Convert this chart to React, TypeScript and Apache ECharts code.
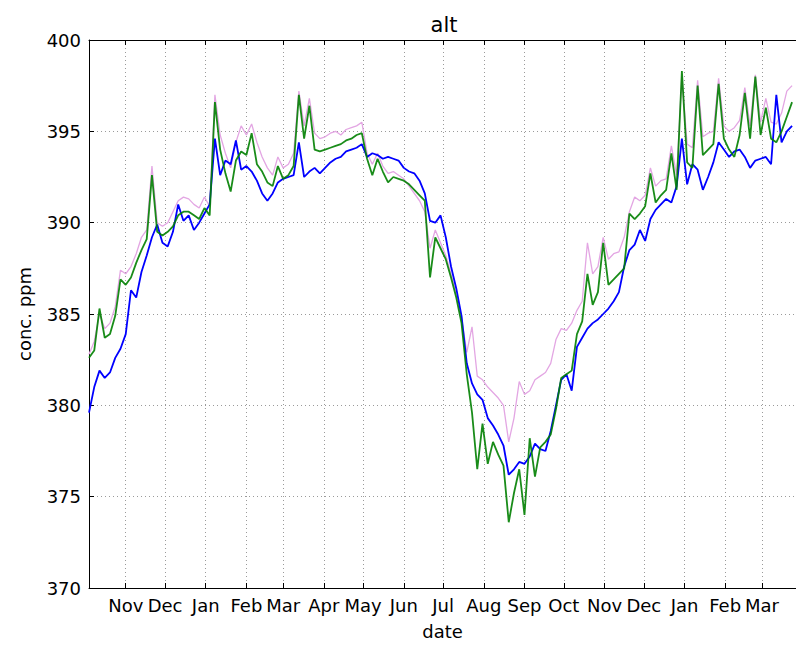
import React, { useEffect, useRef } from "react";
import * as echarts from "echarts";

// Sampling grid: one reading every 4 days starting 2013-10-04
const START_DATE = [2013, 9, 4];
const STEP_DAYS = 4;
const AXIS_END_DAYS = 539;

const MONTHS = ["Jan", "Feb", "Mar", "Apr", "May", "Jun", "Jul", "Aug", "Sep", "Oct", "Nov", "Dec"];
const Y_MIN = 370;
const Y_MAX = 400;
const Y_STEP = 5;

const TITLE = "alt";
const X_NAME = "date";
const Y_NAME = "conc. ppm";

const blueValues = [
  379.6, 381.0, 381.9, 381.5, 381.8, 382.6, 383.1, 383.9, 386.3, 385.9,
  387.3, 388.2, 389.2, 389.9, 388.9, 388.7, 389.5, 391.0, 390.1, 390.4,
  389.6, 390.0, 390.5, 391.0, 394.6, 392.6, 393.4, 393.2, 394.5, 392.9,
  393.1, 392.8, 392.3, 391.6, 391.2, 391.6, 392.2, 392.4, 392.5, 392.6,
  394.4, 392.5, 392.8, 393.0, 392.7, 393.0, 393.3, 393.5, 393.6, 393.9,
  394.0, 394.1, 394.3, 393.6, 393.8, 393.7, 393.5, 393.6, 393.5, 393.4,
  393.0, 392.8, 392.7, 392.3, 391.6, 390.1, 390.0, 390.4, 389.2, 387.6,
  386.4, 384.9, 382.3, 381.2, 380.6, 380.3, 379.3, 378.9, 378.4, 377.8,
  376.2, 376.5, 376.9, 376.8, 377.2, 377.9, 377.6, 377.5, 378.6, 380.0,
  381.4, 381.7, 380.8, 383.2, 383.7, 384.2, 384.5, 384.7, 385.0, 385.3,
  385.7, 386.2, 387.6, 388.5, 388.8, 389.6, 389.0, 390.2, 390.7, 391.0,
  391.3, 391.1, 392.0, 394.6, 392.1, 393.2, 392.9, 391.8, 392.5, 393.3,
  394.4, 394.0, 393.6, 393.9, 394.0, 393.6, 393.0, 393.4, 393.5, 393.6,
  393.2, 397.0, 394.4, 395.0, 395.3,
];

const greenValues = [
  382.6, 383.0, 385.3, 383.7, 383.9, 384.9, 386.9, 386.6, 387.0, 387.8,
  388.5, 389.1, 392.6, 389.5, 389.3, 389.5, 389.8, 390.4, 390.6, 390.6,
  390.4, 390.2, 390.8, 390.4, 396.6, 394.0, 392.7, 391.7, 393.4, 393.9,
  393.7, 394.9, 393.2, 392.8, 392.2, 392.0, 393.1, 392.4, 392.6, 393.1,
  397.0, 394.6, 396.4, 394.0, 393.9, 394.0, 394.1, 394.2, 394.3, 394.5,
  394.6, 394.8, 394.9, 393.5, 392.6, 393.5, 392.8, 392.2, 392.5, 392.4,
  392.3, 392.1, 391.8, 391.5, 391.2, 387.0, 389.2, 388.6, 388.0, 387.0,
  385.9, 384.5, 381.7, 379.6, 376.5, 379.0, 376.8, 378.0, 377.3, 376.7,
  373.6, 375.2, 376.5, 374.0, 378.2, 376.1, 377.7, 378.0, 378.4, 379.8,
  381.5, 381.7, 381.9, 383.9, 384.6, 387.2, 385.5, 386.2, 388.9, 386.6,
  386.9, 387.2, 387.5, 390.5, 390.2, 390.5, 390.9, 392.7, 391.1, 391.5,
  391.8, 393.8, 391.8, 398.3, 393.3, 393.0, 397.5, 393.7, 394.0, 394.3,
  397.6, 394.6, 394.0, 393.6, 394.8, 397.1, 394.6, 398.0, 394.8, 396.3,
  394.6, 394.4, 395.0, 395.8, 396.6,
];

const pinkValues = [
  382.8, 383.5, 385.0, 384.2, 384.5, 385.4, 387.4, 387.2, 387.6, 388.3,
  389.2, 389.6, 393.1, 390.0, 389.8, 390.0, 390.6, 391.2, 391.4, 391.3,
  391.0, 390.8, 391.4, 390.9, 397.0, 394.8, 393.8, 393.0, 394.4, 395.3,
  394.8, 395.4, 394.4, 393.6, 393.0, 392.6, 393.6, 393.0, 393.2, 393.8,
  397.2, 395.3, 396.8, 394.9, 394.6, 394.7, 394.9, 395.0, 394.8, 395.1,
  395.2, 395.3, 395.5, 393.8, 393.2, 393.8, 393.1, 392.7, 392.8, 392.6,
  392.4, 392.0, 391.6, 391.2, 390.6, 388.6, 389.6, 388.9, 388.2, 387.2,
  386.1, 384.8, 382.9, 384.3, 381.6, 381.4, 381.0, 380.7, 380.4, 380.0,
  378.0, 379.3, 381.3, 380.6, 380.8, 381.4, 381.6, 381.8, 382.3, 383.6,
  384.2, 384.1, 384.5, 385.2, 385.7, 388.9, 387.2, 387.6, 389.2, 388.0,
  388.3, 388.4, 389.2, 390.6, 391.4, 391.2, 391.5, 393.0, 392.0, 392.3,
  392.4, 394.2, 392.6, 398.0, 394.3, 394.1, 397.8, 394.7, 394.9, 395.0,
  397.9, 395.3, 395.0, 395.2, 395.6, 397.4, 395.3, 398.1, 395.5, 396.8,
  395.5, 395.4, 396.0, 397.2, 397.5,
];

const DAY = 86400000;
const startTs = new Date(START_DATE[0], START_DATE[1], START_DATE[2]).getTime();
const toPairs = (vals: number[]) => vals.map((v, i) => [startTs + i * STEP_DAYS * DAY, v]);

const FONT = "DejaVu Sans";

export default function App() {
  const ref = useRef<HTMLDivElement>(null);
  useEffect(() => {
    if (!ref.current) return;
    const chart = echarts.init(ref.current, null, { renderer: "svg" });
    const xMin = startTs;
    const xMax = startTs + AXIS_END_DAYS * DAY;
    const monthFmt = (val: number) => MONTHS[new Date(val).getMonth()];
    chart.setOption({
      animation: false,
      backgroundColor: "#ffffff",
      grid: { left: 89, top: 40, width: 711, height: 552, containLabel: false },
      graphic: [
        {
          type: "text",
          x: 444,
          y: 25,
          style: {
            text: TITLE,
            align: "center",
            verticalAlign: "middle",
            fontSize: 21,
            fontFamily: FONT,
            fill: "#000",
          },
        },
      ],
      xAxis: [
        {
          type: "time",
          min: xMin,
          max: xMax,
          splitNumber: 18,
          minInterval: 28 * DAY,
          maxInterval: 31 * DAY,
          name: X_NAME,
          nameLocation: "middle",
          nameGap: 34,
          nameTextStyle: { fontSize: 18, fontFamily: FONT, color: "#000" },
          axisLine: { show: true, onZero: false, lineStyle: { color: "#000", width: 1 } },
          axisTick: { show: true, inside: true, length: 5, lineStyle: { color: "#000" } },
          axisLabel: {
            formatter: monthFmt,
            fontSize: 18,
            fontFamily: FONT,
            color: "#000",
            margin: 8,
            showMinLabel: false,
            showMaxLabel: false,
            hideOverlap: false,
            interval: 0,
          },
          splitLine: { show: true, lineStyle: { color: "#9a9a9a", type: [1, 3], width: 1 } },
        },
        {
          type: "time",
          position: "top",
          min: xMin,
          max: xMax,
          splitNumber: 18,
          minInterval: 28 * DAY,
          maxInterval: 31 * DAY,
          axisLine: { show: true, onZero: false, lineStyle: { color: "#000", width: 1 } },
          axisTick: { show: true, inside: true, length: 5, lineStyle: { color: "#000" } },
          axisLabel: { show: false },
          splitLine: { show: false },
        },
      ],
      yAxis: {
        type: "value",
        min: Y_MIN,
        max: Y_MAX,
        interval: Y_STEP,
        name: Y_NAME,
        nameLocation: "middle",
        nameGap: 56,
        nameTextStyle: { fontSize: 18, fontFamily: FONT, color: "#000" },
        axisLine: { show: true, lineStyle: { color: "#000", width: 1 } },
        axisTick: { show: true, inside: true, length: 5, lineStyle: { color: "#000" } },
        axisLabel: { fontSize: 18, fontFamily: FONT, color: "#000", margin: 8 },
        splitLine: { show: true, lineStyle: { color: "#9a9a9a", type: [1, 3], width: 1 } },
      },
      series: [
        {
          type: "line",
          data: toPairs(pinkValues),
          showSymbol: false,
          lineStyle: { color: "#e3a6e3", width: 1.3 },
          itemStyle: { color: "#e3a6e3" },
        },
        {
          type: "line",
          data: toPairs(blueValues),
          showSymbol: false,
          lineStyle: { color: "#0000ff", width: 1.8 },
          itemStyle: { color: "#0000ff" },
        },
        {
          type: "line",
          data: toPairs(greenValues),
          showSymbol: false,
          lineStyle: { color: "#008000", width: 1.8, opacity: 0.9 },
          itemStyle: { color: "#008000" },
        },
      ],
    });
    return () => chart.dispose();
  }, []);
  return (
    <div style={{ position: "fixed", left: 0, top: 0, width: 796, height: 645, overflow: "hidden", background: "#fff" }}>
      <div ref={ref} style={{ width: 796, height: 645 }} />
    </div>
  );
}
